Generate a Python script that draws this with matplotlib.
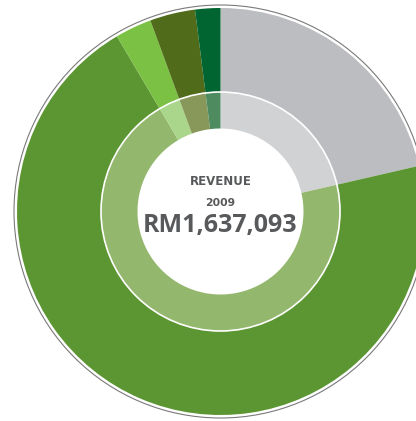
import matplotlib.pyplot as plt
from matplotlib.patches import Circle

# revenue split 2009 (share of total, %), clockwise from 12 o'clock
segments = ["Segment A", "Segment B", "Segment C", "Segment D", "Segment E"]
share = [21.4, 70.1, 2.9, 3.6, 2.0]
outer_colors = ["#bcbdc1", "#5c9632", "#7bc143", "#506b1a", "#006530"]
inner_colors = ["#d1d2d4", "#93b76c", "#a9d68a", "#87985a", "#4e8c5f"]

title = "REVENUE"
year = "2009"
total = "RM1,637,093"

W, H = 416, 421
fig = plt.figure(figsize=(W / 100, H / 100), dpi=100)
ax = fig.add_axes([0, 0, 1, 1])

cx, cy = 220.5, H - 211.5
r_out, r_mid, r_in = 203.5, 119.5, 83

ax.pie(share, colors=outer_colors, radius=r_out, center=(cx, cy),
       startangle=90, counterclock=False, frame=True,
       wedgeprops=dict(width=r_out - r_mid, linewidth=0))
ax.pie(share, colors=inner_colors, radius=r_mid, center=(cx, cy),
       startangle=90, counterclock=False, frame=True,
       wedgeprops=dict(width=r_mid - r_in, linewidth=0))
ax.set_xlim(0, W)
ax.set_ylim(0, H)
ax.set_aspect("equal")
ax.axis("off")

# thin rings
ax.add_patch(Circle((cx, cy), r_mid, fill=False, ec="white", lw=1.2))
ax.add_patch(Circle((cx, cy), 206.5, fill=False, ec="#7a7a7a", lw=0.8))

col = "#58595b"
ax.text(cx, H - 181.5, title, ha="center", va="center", fontsize=8.5,
        fontweight="bold", color=col, family="DejaVu Sans")
ax.text(cx, H - 203, year, ha="center", va="center", fontsize=7.8,
        fontweight="bold", color=col, family="DejaVu Sans")
ax.text(cx, H - 225.5, total, ha="center", va="center", fontsize=18,
        fontweight="bold", color=col, family="Open Sans")

fig.savefig("out.png", dpi=100)
